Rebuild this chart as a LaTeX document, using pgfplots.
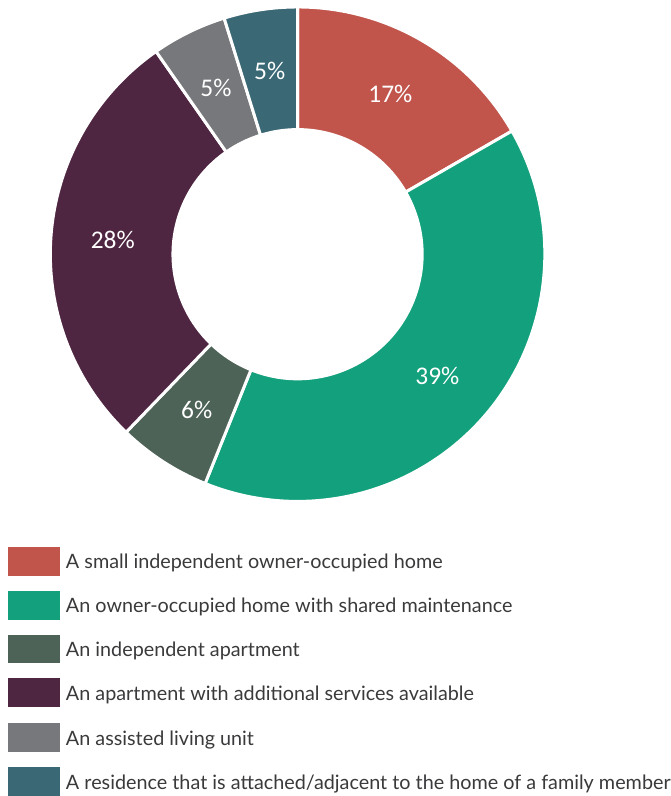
\documentclass[border=0pt]{standalone}
\usepackage{pgfplots}
\usepackage{pgfplotstable}
\usepackage{fontspec}
\pgfplotsset{compat=1.18}
\setmainfont{Lato}
\newfontfamily\pctfamily{Carlito}
\definecolor{c0}{HTML}{C1554C}
\definecolor{c1}{HTML}{13A07C}
\definecolor{c2}{HTML}{4E6358}
\definecolor{c3}{HTML}{4F2641}
\definecolor{c4}{HTML}{77787B}
\definecolor{c5}{HTML}{3A6875}
\definecolor{txt}{HTML}{3A3A3C}
\newcommand\pctfont{\pctfamily\fontsize{25.5}{25.5}\selectfont}
\newcommand\legfont{\fontsize{19.85}{19.85}\selectfont}
\pgfplotstableread{
value lbl
16.7 17
39.4 39
6.1 6
28.1 28
4.9 5
4.8 5
}\donut
\begin{document}
\begin{tikzpicture}
\begin{axis}[
  x=1pt, y=1pt, xmin=0, xmax=673, ymin=0, ymax=796,
  hide axis, scale only axis, clip=false,
]
\path (axis cs:0,0) rectangle (axis cs:673,796);
\def\cx{298.5}\def\cy{541}\def\Ro{248}\def\Ri{125}\def\Rm{186}
\def\cum{0}
\pgfplotsforeachungrouped \i in {0,...,5}{%
  \pgfplotstablegetelem{\i}{value}\of\donut \let\v\pgfplotsretval
  \pgfplotstablegetelem{\i}{lbl}\of\donut \let\l\pgfplotsretval
  \pgfmathsetmacro\a{90-3.6*\cum}%
  \pgfmathsetmacro\b{90-3.6*(\cum+\v)}%
  \pgfmathsetmacro\m{(\a+\b)/2}%
  \pgfmathsetmacro\xa{\cx+\Ro*cos(\a)}%
  \pgfmathsetmacro\ya{\cy+\Ro*sin(\a)}%
  \pgfmathsetmacro\xb{\cx+\Ri*cos(\b)}%
  \pgfmathsetmacro\yb{\cy+\Ri*sin(\b)}%
  \pgfmathsetmacro\xm{\cx+\Rm*cos(\m)}%
  \pgfmathsetmacro\ym{\cy+\Rm*sin(\m)}%
  \edef\temp{\noexpand\filldraw[fill=c\i,draw=white,line width=3pt,line join=miter]
    (axis cs:\xa,\ya) arc[start angle=\a,end angle=\b,radius=\Ro]
    -- (axis cs:\xb,\yb) arc[start angle=\b,end angle=\a,radius=\Ri] -- cycle;
    \noexpand\node[text=white,font=\noexpand\pctfont,inner sep=0pt] at (axis cs:\xm,\ym) {\l\noexpand\%};}%
  \temp
  \pgfmathsetmacro\cum{\cum+\v}%
}
% legend
\def\legrow#1#2#3{%
  \fill[#1] (axis cs:8,#2-14.5) rectangle (axis cs:60,#2+14.5);
  \node[anchor=base west,inner sep=0pt,text=txt,font=\legfont] at (axis cs:66,#2-7.5) {#3};
}
\legrow{c0}{233}{A small independent owner-occupied home}
\legrow{c1}{189}{An owner-occupied home with shared maintenance}
\legrow{c2}{145}{An independent apartment}
\legrow{c3}{101}{An apartment with additional services available}
\legrow{c4}{56}{An assisted living unit}
\legrow{c5}{12}{A residence that is attached/adjacent to the home of a family member}
\end{axis}
\end{tikzpicture}
\end{document}
